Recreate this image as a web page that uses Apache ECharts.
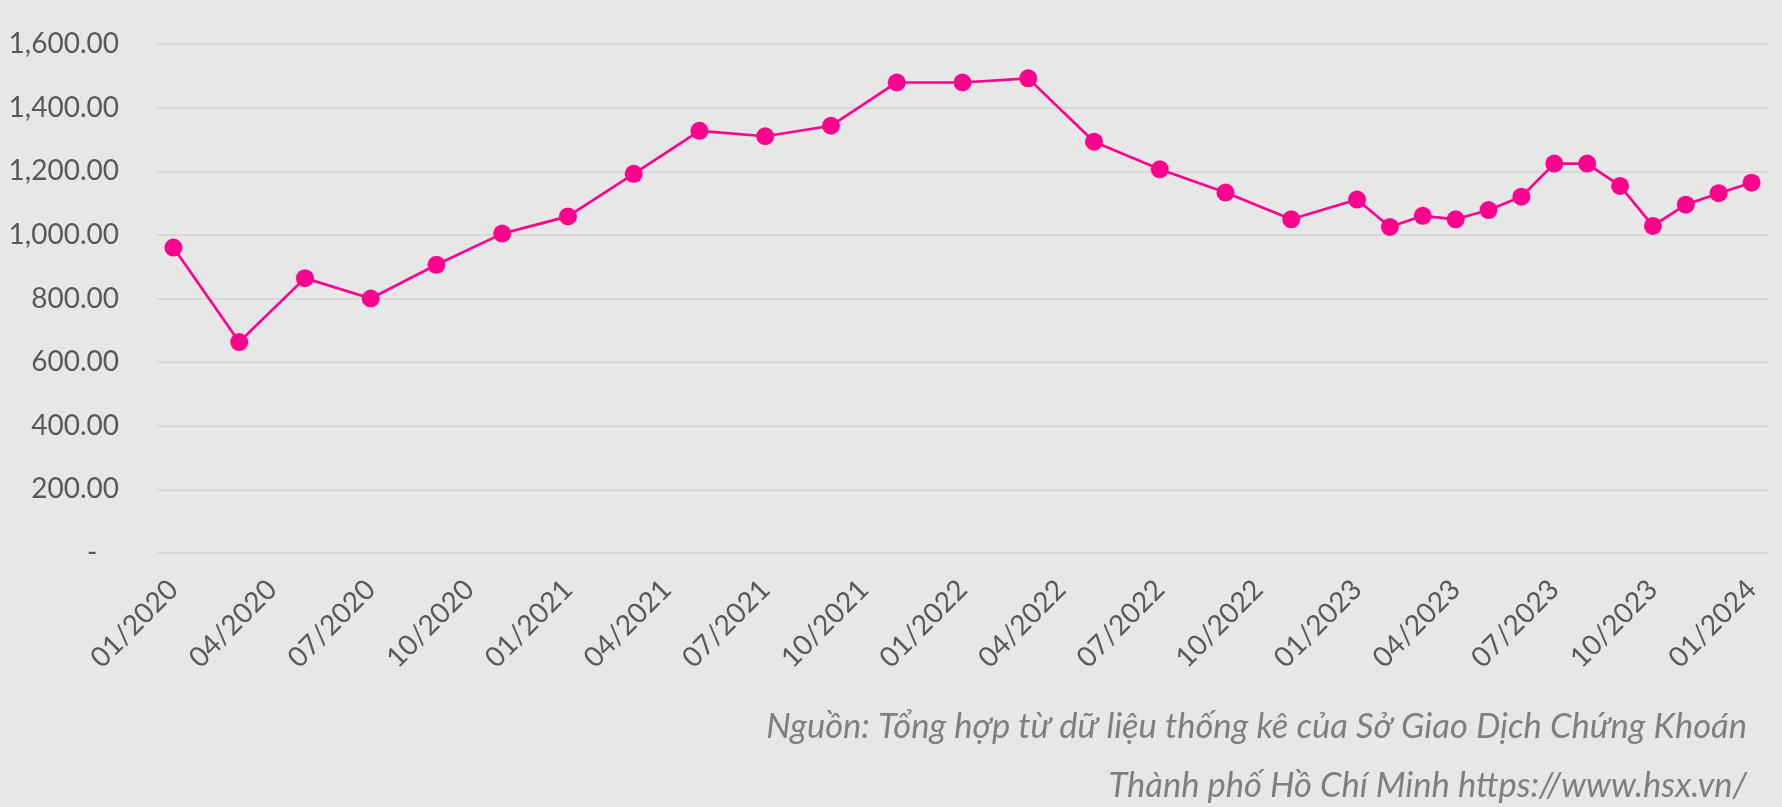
<!DOCTYPE html>
<html>
<head>
<meta charset="utf-8">
<script src="https://cdn.jsdelivr.net/npm/echarts@6/dist/echarts.min.js"></script>
<style>
  html, body { margin: 0; padding: 0; background: #e7e7e7; }
  #chart { width: 1782px; height: 807px; }
</style>
</head>
<body>
<div id="chart"></div>
<script>
// months that have an observation (MM/YYYY) and their values
const pointDates = [
  '01/2020', '03/2020', '05/2020', '07/2020', '09/2020', '11/2020',
  '01/2021', '03/2021', '05/2021', '07/2021', '09/2021', '11/2021',
  '01/2022', '03/2022', '05/2022', '07/2022', '09/2022', '11/2022',
  '01/2023', '02/2023', '03/2023', '04/2023', '05/2023', '06/2023',
  '07/2023', '08/2023', '09/2023', '10/2023', '11/2023', '12/2023',
  '01/2024'
];
const pointValues = [
  960, 663, 864, 800, 906, 1004,
  1058, 1192, 1327, 1310, 1343, 1479,
  1479, 1492, 1293, 1206, 1133, 1049,
  1111, 1025, 1060, 1049, 1078, 1120,
  1224, 1224, 1154, 1028, 1095, 1131,
  1164
];
const startYear = 2020;
const endYear = 2024;
const sourceLines = [
  'Nguồn: Tổng hợp từ dữ liệu thống kê của Sở Giao Dịch Chứng Khoán',
  'Thành phố Hồ Chí Minh https://www.hsx.vn/'
];

// one category per month, labels shown every 3 months
const months = [];
for (let y = startYear; y <= endYear; y++) {
  for (let m = 1; m <= 12; m++) {
    if (y === endYear && m > 1) break;
    months.push((m < 10 ? '0' + m : '' + m) + '/' + y);
  }
}
const seriesData = months.map((mm) => {
  const i = pointDates.indexOf(mm);
  return i >= 0 ? pointValues[i] : null;
});

const chart = echarts.init(document.getElementById('chart'), null, { renderer: 'canvas' });

const option = {
  backgroundColor: '#e7e7e7',
  animation: false,
  textStyle: { fontFamily: 'Lato, "Noto Sans", sans-serif' },
  grid: {
    left: 157,
    right: 14,
    top: 44,
    bottom: 254,
    containLabel: false,
    outerBoundsMode: 'none'
  },
  xAxis: {
    type: 'category',
    data: months,
    boundaryGap: true,
    axisLine: { show: false },
    axisTick: { show: false },
    axisLabel: {
      interval: 2,
      rotate: 45,
      margin: 32,
      fontSize: 28,
      color: '#595959',
      fontFamily: 'Lato'
    }
  },
  yAxis: {
    type: 'value',
    min: 0,
    max: 1600,
    interval: 200,
    axisLine: { show: false },
    axisTick: { show: false },
    splitLine: { lineStyle: { color: '#d8d8d8', width: 2 } },
    axisLabel: {
      margin: 38,
      fontSize: 28,
      color: '#595959',
      fontFamily: 'Lato',
      formatter: (v) => v === 0 ? '-   ' :
        v.toLocaleString('en-US', { minimumFractionDigits: 2, maximumFractionDigits: 2 })
    }
  },
  series: [
    {
      type: 'line',
      data: seriesData,
      connectNulls: true,
      symbol: 'circle',
      symbolSize: 18,
      lineStyle: { color: '#ff028d', width: 2.7 },
      itemStyle: { color: '#ff028d' }
    }
  ],
  graphic: sourceLines.map((t, i) => ({
    type: 'text',
    right: 35,
    top: 709 + i * 59,
    style: {
      text: t,
      font: 'italic 34.5px Lato',
      fill: '#7f7f7f'
    }
  }))
};

chart.setOption(option);
</script>
</body>
</html>
